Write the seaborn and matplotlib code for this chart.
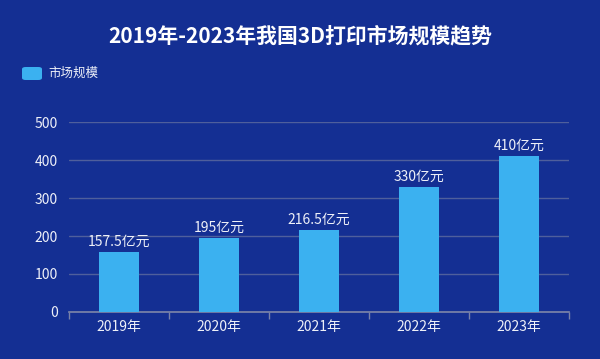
import matplotlib
matplotlib.use('Agg')
import matplotlib.pyplot as plt
import seaborn as sns
import pandas as pd
from matplotlib.patches import FancyBboxPatch

# data
years = ['2019年', '2020年', '2021年', '2022年', '2023年']
values = [157.5, 195, 216.5, 330, 410]
labels = ['157.5亿元', '195亿元', '216.5亿元', '330亿元', '410亿元']
series_name = '市场规模'
title = '2019年-2023年我国3D打印市场规模趋势'

bg = '#142f93'
bar_color = '#3bb1f0'
text_color = '#eef0f8'

sns.set_theme(style='white')
plt.rcParams['font.family'] = ['Noto Sans CJK SC', 'DejaVu Sans']

df = pd.DataFrame({'year': years, 'value': values})

fig = plt.figure(figsize=(6, 3.59), dpi=100, facecolor=bg)
ax = fig.add_axes([0.115, 0.131, 0.833, 0.529], facecolor=bg)

sns.barplot(data=df, x='year', y='value', color=bar_color, width=0.4,
            saturation=1, ax=ax, zorder=3, edgecolor='none', linewidth=0)

for i, (v, lab) in enumerate(zip(values, labels)):
    ax.text(i, v + 8, lab, ha='center', va='bottom', color=text_color,
            fontsize=10)

ax.set_ylim(0, 500)
ax.set_yticks([0, 100, 200, 300, 400, 500])
ax.set_xlim(-0.5, 4.5)
ax.grid(axis='y', color='#4f5f9c', linewidth=1, zorder=0)
ax.set_xlabel('')
ax.set_ylabel('')
for s in ['top', 'right', 'left']:
    ax.spines[s].set_visible(False)
ax.spines['bottom'].set_color('#7a82a8')
ax.tick_params(axis='y', colors=text_color, labelsize=10, length=0, pad=8)
ax.tick_params(axis='x', colors=text_color, labelsize=10, length=0, pad=6)
# category boundary ticks
ax.set_xticks([-0.5, 0.5, 1.5, 2.5, 3.5, 4.5], minor=True)
ax.tick_params(axis='x', which='minor', length=5, color='#7a82a8', bottom=True)

fig.text(0.5, 0.9, title, ha='center', va='center', color='white',
         fontsize=15, fontweight='bold')

# legend swatch
fig.patches.append(FancyBboxPatch((22 / 600, 1 - 80 / 359), 20 / 600, 13 / 359,
                                  boxstyle='round,pad=0,rounding_size=0.006',
                                  transform=fig.transFigure, facecolor=bar_color,
                                  edgecolor='none'))
fig.text(48 / 600, 1 - 73.5 / 359, series_name, ha='left', va='center',
         color=text_color, fontsize=9)

fig.savefig('out.png', dpi=100, facecolor=bg)
